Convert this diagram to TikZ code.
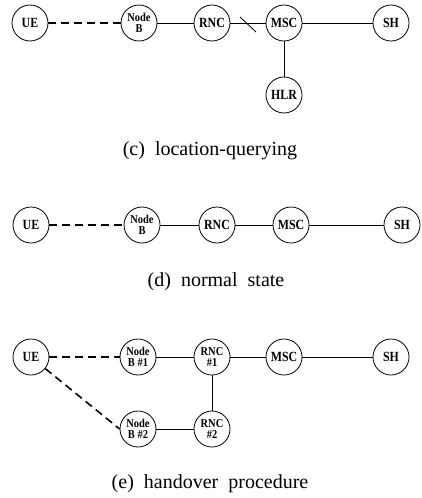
\documentclass[tikz,border=0pt]{standalone}
\usepackage{fontspec}
\setmainfont{Liberation Serif}
\newfontfamily\nodefont[FakeStretch=0.85]{Liberation Serif}
\newfontfamily\nodefontsm[FakeStretch=0.87]{Liberation Serif}
\begin{document}
\begin{tikzpicture}[x=1pt,y=-1pt,
  ent/.style={circle,draw,line width=0.8pt,minimum size=36pt,inner sep=0pt,
    font=\nodefont\bfseries\fontsize{14}{14}\selectfont,align=center},
  entsm/.style={ent,font=\nodefontsm\bfseries\fontsize{12}{11.5}\selectfont},
  link/.style={line width=0.8pt},
  radio/.style={line width=1.6pt,dash pattern=on 8pt off 5pt},
  captext/.style={anchor=base,font=\fontsize{20}{22}\selectfont}]
\useasboundingbox (0,0) rectangle (422,498);
% (c)
\node[ent] (c-ue) at (30,23) {UE};
\node[entsm] (c-nb) at (139,23) {Node\\B};
\node[ent] (c-rnc) at (212,23) {RNC};
\node[ent] (c-msc) at (284,23) {MSC};
\node[ent] (c-sh) at (391,23) {SH};
\node[ent] (c-hlr) at (284,95) {HLR};
\draw[radio] (c-ue) -- (c-nb);
\draw[link] (c-nb) -- (c-rnc);
\draw[link] (c-rnc) -- (c-msc);
\draw[link] (c-msc) -- (c-sh);
\draw[link] (c-msc) -- (c-hlr);
\coordinate (c-s1) at (240,17);
\coordinate (c-s2) at (256,32);
\draw[link] (c-s1) -- (c-s2);
\node[captext] (c-cap) at (210,155) {(c)\ \ location-querying};
% (d)
\node[ent] (d-ue) at (31,225) {UE};
\node[entsm] (d-nb) at (142,225) {Node\\B};
\node[ent] (d-rnc) at (217,225) {RNC};
\node[ent] (d-msc) at (291,225) {MSC};
\node[ent] (d-sh) at (402,225) {SH};
\draw[radio] (d-ue) -- (d-nb);
\draw[link] (d-nb) -- (d-rnc);
\draw[link] (d-rnc) -- (d-msc);
\draw[link] (d-msc) -- (d-sh);
\node[captext] (d-cap) at (216,286) {(d)\ \ normal\ \ state};
% (e)
\node[ent] (e-ue) at (31,357) {UE};
\node[entsm] (e-nb1) at (138,357) {Node\\B \#1};
\node[entsm] (e-rnc1) at (212,357) {RNC\\\#1};
\node[ent] (e-msc) at (284,357) {MSC};
\node[ent] (e-sh) at (391,357) {SH};
\node[entsm] (e-nb2) at (138,429) {Node\\B \#2};
\node[entsm] (e-rnc2) at (212,429) {RNC\\\#2};
\draw[radio] (e-ue) -- (e-nb1);
\draw[radio] (e-ue) -- (e-nb2.west);
\draw[link] (e-nb1) -- (e-rnc1);
\draw[link] (e-rnc1) -- (e-msc);
\draw[link] (e-msc) -- (e-sh);
\draw[link] (e-rnc1) -- (e-rnc2);
\draw[link] (e-nb2) -- (e-rnc2);
\node[captext] (e-cap) at (210,488) {(e)\ \ handover\ \ procedure};
\end{tikzpicture}
\end{document}
